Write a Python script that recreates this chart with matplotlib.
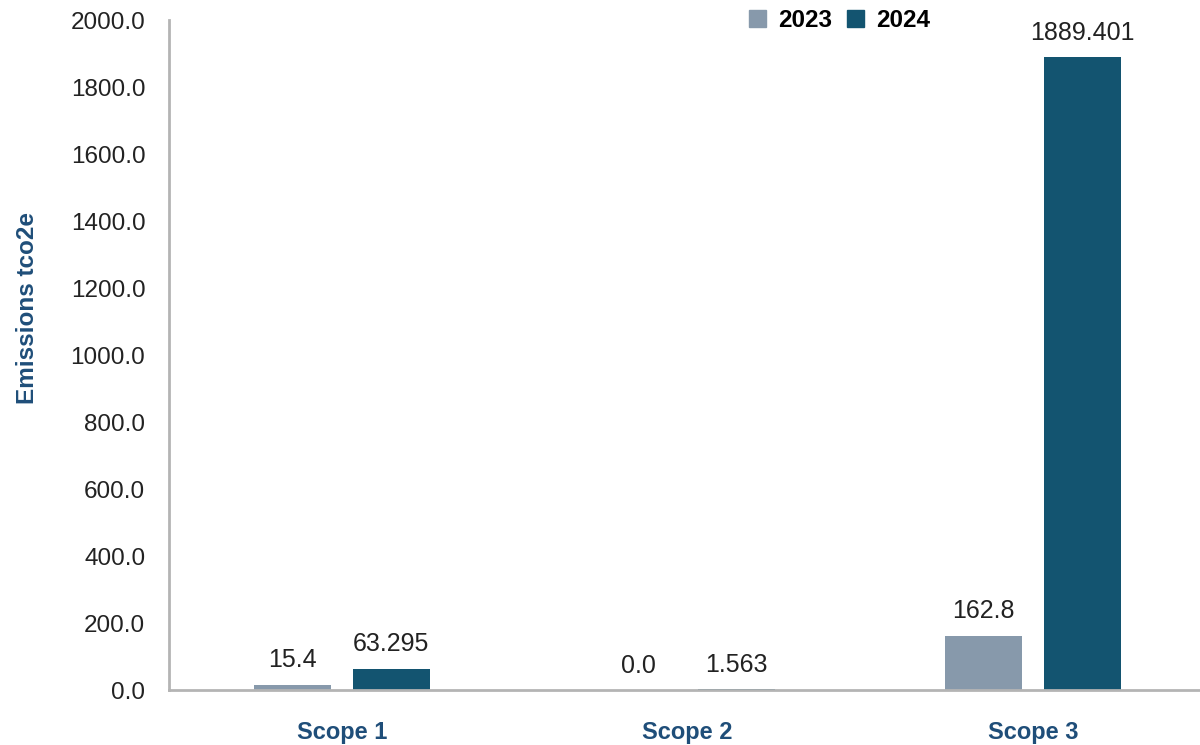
import numpy as np
import matplotlib.pyplot as plt
from matplotlib.patches import Patch

categories = ['Scope 1', 'Scope 2', 'Scope 3']
years = ['2023', '2024']
values_2023 = [15.4, 0.0, 162.8]
values_2024 = [63.295, 1.563, 1889.401]
labels_2023 = ['15.4', '0.0', '162.8']
labels_2024 = ['63.295', '1.563', '1889.401']

c2023 = '#8799ab'
c2024 = '#135470'
label_blue = '#1f4e79'
axis_grey = '#b4b4b4'

fig = plt.figure(figsize=(12, 7.45), dpi=100)
ax = fig.add_axes([0.1408, 0.0738, 0.864, 0.899])

x = np.arange(len(categories))
w = 0.223
off = 0.143
b1 = ax.bar(x - off, values_2023, w, color=c2023)
b2 = ax.bar(x + off, values_2024, w, color=c2024)

# data labels above bars
for bars, labs in ((b1, labels_2023), (b2, labels_2024)):
    for rect, lab in zip(bars, labs):
        ax.annotate(lab, (rect.get_x() + rect.get_width() / 2, rect.get_height()),
                    xytext=(0, 9), textcoords='offset points', ha='center', va='bottom',
                    fontsize=18, color='#222222', family='Liberation Sans')

ax.set_xlim(-0.5, 2.5)
ax.set_ylim(0, 2000)
ax.set_yticks(np.arange(0, 2001, 200))
ax.set_yticklabels([f'{v:.1f}' for v in np.arange(0, 2001, 200)],
                   fontsize=17.5, color='#222222', family='Liberation Sans')
ax.set_xticks(x)
ax.set_xticklabels(categories, fontsize=17, fontweight='bold', color=label_blue,
                   family='Liberation Sans')
ax.tick_params(axis='both', length=0)
ax.tick_params(axis='x', pad=22)
ax.tick_params(axis='y', pad=17)

ax.set_ylabel('Emissions tco2e', fontsize=17.5, fontweight='bold', color=label_blue,
              family='Liberation Sans')
ax.yaxis.set_label_coords(-0.125, 0.57)

for s in ('top', 'right'):
    ax.spines[s].set_visible(False)
for s in ('left', 'bottom'):
    ax.spines[s].set_color(axis_grey)
    ax.spines[s].set_linewidth(2)

handles = [Patch(color=c2023), Patch(color=c2024)]
ax.legend(handles, years, loc='upper center', bbox_to_anchor=(0.647, 1.05), ncol=2,
          frameon=False, handlelength=0.7, handleheight=0.7, handletextpad=0.5,
          columnspacing=0.6, prop={'family': 'Liberation Sans', 'weight': 'bold', 'size': 17.5})

fig.savefig('out.png', dpi=100)
